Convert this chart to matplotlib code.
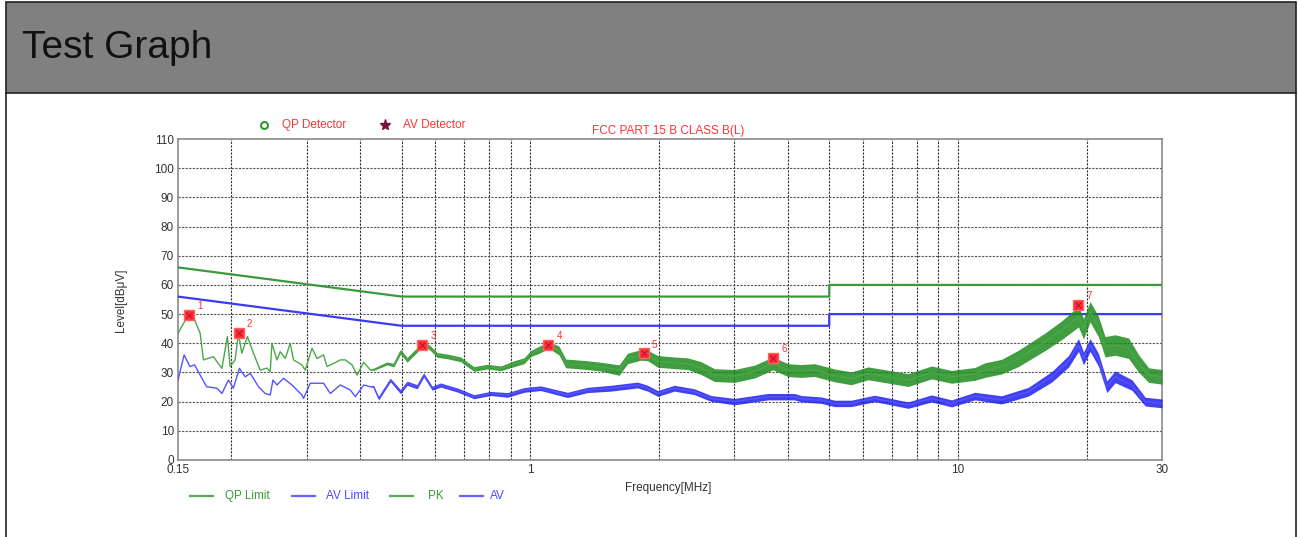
import matplotlib
matplotlib.use("Agg")
import matplotlib.pyplot as plt
from matplotlib.lines import Line2D
from matplotlib.patches import Rectangle
from matplotlib.ticker import FixedLocator, NullLocator

plt.rcParams['font.family'] = ['Liberation Sans', 'DejaVu Sans']

# limit lines (FCC Part 15 B, class B)
limit_freq = [0.15, 0.5, 5, 5, 30]
qp_limit = [66, 56, 56, 60, 60]
av_limit = [56, 46, 46, 50, 50]

# PK trace, plus half-width of the noise band
pk_freq = [0.150, 0.1585, 0.163, 0.169, 0.172, 0.1815, 0.190, 0.1957, 0.1986, 0.204,
           0.2077, 0.2115, 0.218, 0.2252, 0.2335, 0.2421, 0.2465, 0.2487, 0.2555, 0.2601,
           0.2672, 0.2745, 0.2794, 0.2923, 0.2976, 0.3086, 0.3170, 0.3285, 0.3346, 0.3467,
           0.3594, 0.3692, 0.3828, 0.3934, 0.4077, 0.4227, 0.4302, 0.4625, 0.4794, 0.4970,
           0.5152, 0.5245, 0.5586, 0.5635, 0.5841, 0.6056, 0.6393, 0.6867, 0.7379, 0.7933,
           0.8524, 0.9158, 0.9665, 1.002, 1.039, 1.106, 1.167, 1.210, 1.336, 1.462,
           1.613, 1.688, 1.814, 1.881, 1.985, 2.171, 2.333, 2.507, 2.694, 3.001,
           3.343, 3.691, 4.002, 4.299, 4.619, 5.146, 5.631, 6.163, 7.647, 8.672,
           9.658, 10.95, 11.56, 12.65, 13.84, 15.98, 17.49, 19.13, 19.66, 20.37,
           21.31, 22.08, 23.31, 25.06, 26.45, 27.92, 30.0]
pk_level = [43.4, 49.7, 49.1, 43.4, 34.3, 35.4, 31.4, 42.3, 32.0, 34.3,
            43.4, 36.6, 42.3, 36.6, 30.8, 31.5, 30.3, 40.0, 34.3, 37.1,
            34.8, 40.0, 34.3, 32.6, 30.8, 38.3, 34.8, 36.0, 32.0, 33.1,
            34.3, 34.3, 32.6, 29.1, 33.5, 30.8, 31.0, 33.1, 32.5, 37.1,
            34.3, 35.5, 39.4, 40.0, 38.3, 36.0, 35.5, 34.5, 31.2, 32.0,
            31.4, 33.0, 34.0, 36.5, 37.5, 39.4, 37.5, 33.1, 32.6, 32.0,
            30.8, 34.8, 36.0, 35.8, 33.8, 33.3, 33.0, 31.5, 29.1, 28.8,
            30.3, 33.1, 30.8, 30.5, 30.8, 29.0, 28.0, 29.7, 27.4, 30.0,
            28.5, 29.5, 30.8, 32.0, 34.8, 40.5, 44.5, 49.1, 45.0, 50.8,
            45.7, 38.8, 39.4, 38.3, 33.1, 29.1, 28.5]
pk_spread = [0, 0, 0, 0, 0, 0, 0, 0, 0, 0,
             0, 0, 0, 0, 0, 0, 0, 0, 0, 0,
             0, 0, 0, 0, 0, 0, 0, 0, 0, 0,
             0, 0, 0, 0, 0, 0, 0.3, 0.5, 0.6, 0.8,
             0.8, 0.8, 0.8, 0.8, 0.8, 0.8, 0.8, 0.8, 0.8, 0.8,
             0.8, 1.0, 1.0, 1.0, 1.2, 1.2, 1.5, 1.5, 1.5, 1.5,
             1.8, 1.8, 1.8, 1.8, 2.0, 2.0, 2.0, 2.2, 2.2, 2.2,
             2.2, 2.2, 2.2, 2.2, 2.2, 2.2, 2.2, 2.2, 2.2, 2.2,
             2.2, 2.2, 2.5, 2.5, 2.8, 3.0, 3.2, 3.5, 3.5, 3.5,
             3.5, 3.5, 3.5, 3.5, 3.0, 2.5, 2.5]

# AV trace, plus half-width of the noise band
av_freq = [0.150, 0.155, 0.160, 0.164, 0.169, 0.175, 0.185, 0.190, 0.1968, 0.2021,
           0.2088, 0.2154, 0.2213, 0.2314, 0.2399, 0.2465, 0.2501, 0.2555, 0.2647, 0.2770,
           0.2923, 0.2949, 0.3057, 0.3285, 0.3406, 0.3594, 0.3793, 0.3898, 0.4077, 0.4227,
           0.4302, 0.4420, 0.4708, 0.4970, 0.5152, 0.5437, 0.5635, 0.5895, 0.6166, 0.6747,
           0.7379, 0.8075, 0.8835, 0.9665, 1.057, 1.221, 1.360, 1.543, 1.781, 1.881,
           1.985, 2.171, 2.418, 2.646, 3.001, 3.593, 4.147, 4.299, 4.789, 5.146,
           5.631, 6.387, 7.647, 8.672, 9.658, 10.95, 12.65, 14.61, 16.57, 18.13,
           19.13, 19.66, 20.37, 21.31, 22.29, 23.31, 25.51, 27.41, 30.0]
av_level = [27.4, 36.0, 32.0, 32.6, 29.1, 25.1, 24.6, 22.8, 27.4, 24.6,
            31.4, 28.5, 29.7, 25.1, 22.8, 22.3, 27.4, 25.7, 28.0, 25.7,
            22.3, 21.1, 26.3, 26.3, 22.8, 25.7, 24.0, 21.7, 25.7, 25.1,
            25.1, 21.1, 27.4, 23.4, 26.3, 25.1, 29.1, 24.6, 25.7, 24.0,
            21.7, 22.8, 22.3, 24.0, 24.6, 22.3, 24.0, 24.6, 25.7, 24.6,
            22.8, 24.6, 23.4, 21.1, 20.0, 21.7, 21.7, 21.0, 20.5, 19.4,
            19.4, 21.1, 18.8, 21.1, 19.4, 21.9, 20.6, 23.4, 28.5, 33.8,
            39.4, 34.8, 39.4, 34.3, 25.1, 28.5, 25.7, 20.0, 19.4]
av_spread = [0, 0, 0, 0, 0, 0, 0, 0, 0, 0,
             0, 0, 0, 0, 0, 0, 0, 0, 0, 0,
             0, 0, 0, 0, 0, 0, 0, 0, 0, 0,
             0.3, 0.5, 0.6, 0.7, 0.7, 0.7, 0.7, 0.7, 0.7, 0.7,
             0.7, 0.7, 0.8, 0.8, 0.8, 0.9, 0.9, 1.0, 1.0, 1.0,
             1.0, 1.0, 1.0, 1.0, 1.1, 1.1, 1.1, 1.1, 1.1, 1.1,
             1.1, 1.1, 1.1, 1.2, 1.2, 1.3, 1.4, 1.5, 1.8, 2.0,
             2.2, 2.2, 2.2, 2.2, 2.0, 2.0, 1.8, 1.5, 1.5]

# marked peaks
mark_freq = [0.159, 0.208, 0.5586, 1.10, 1.84, 3.69, 19.13]
mark_level = [49.7, 43.6, 39.4, 39.4, 36.6, 35.1, 53.1]
mark_names = ['1', '2', '3', '4', '5', '6', '7']

x_ticks = [0.15, 1, 10, 30]
x_tick_labels = ['0.15', '1', '10', '30']
y_ticks = list(range(0, 111, 10))

GREEN = '#1e8c1e'
LGREEN = '#4aa84a'
BLUE = '#2020ee'
LBLUE = '#5555ff'

fig = plt.figure(figsize=(12.98, 5.37), dpi=100)

# header bar and frame
fig.add_artist(Rectangle((6 / 1298, 1 - 93 / 537), 1290 / 1298, 91 / 537,
                         transform=fig.transFigure, facecolor='#808080',
                         edgecolor='#222222', linewidth=1.2))
fig.add_artist(Line2D([6 / 1298, 6 / 1298], [0, 1 - 93 / 537], transform=fig.transFigure,
                      color='#222222', linewidth=1.2))
fig.add_artist(Line2D([1296 / 1298, 1296 / 1298], [0, 1 - 93 / 537], transform=fig.transFigure,
                      color='#222222', linewidth=1.2))
fig.text(22 / 1298, 1 - 48 / 537, 'Test Graph', fontsize=28, color='#111111',
         va='center', ha='left')

ax = fig.add_axes([178 / 1298, 1 - 460 / 537, 984 / 1298, 321 / 537])
ax.set_xscale('log')
ax.set_xlim(0.15, 30)
ax.set_ylim(0, 110)

# grid
ax.xaxis.set_major_locator(FixedLocator(x_ticks))
ax.xaxis.set_minor_locator(NullLocator())
ax.set_xticklabels(x_tick_labels)
ax.set_yticks(y_ticks)
grid_x = [0.2, 0.3, 0.4, 0.5, 0.6, 0.7, 0.8, 0.9, 1, 2, 3, 4, 5, 6, 7, 8, 9, 10, 20]
for gx in grid_x:
    ax.axvline(gx, color='#333333', linewidth=0.8, linestyle=(0, (2, 1.2)), zorder=1)
for gy in y_ticks[1:-1]:
    ax.axhline(gy, color='#555555', linewidth=0.8, linestyle=(0, (2, 1.2)), zorder=1)

ax.tick_params(length=0, labelsize=8.5, labelcolor='#333333', pad=3)
for s in ax.spines.values():
    s.set_color('#8a8a8a')
    s.set_linewidth(1.2)

# limits
ax.plot(limit_freq, qp_limit, color='#3a9a3a', linewidth=1.6, zorder=3)
ax.plot(limit_freq, av_limit, color='#3b3bf5', linewidth=1.6, zorder=3)

# traces
pk_lo = [l - s for l, s in zip(pk_level, pk_spread)]
pk_hi = [l + s for l, s in zip(pk_level, pk_spread)]
av_lo = [l - s for l, s in zip(av_level, av_spread)]
av_hi = [l + s for l, s in zip(av_level, av_spread)]
ax.fill_between(pk_freq, pk_lo, pk_hi, color=GREEN, alpha=0.85, linewidth=0, zorder=4)
ax.plot(pk_freq, pk_level, color=LGREEN, linewidth=1.0, zorder=4)
ax.fill_between(av_freq, av_lo, av_hi, color=BLUE, alpha=0.85, linewidth=0, zorder=4)
ax.plot(av_freq, av_level, color=LBLUE, linewidth=1.0, zorder=4)

# markers
ax.plot(mark_freq, mark_level, linestyle='none', marker='s', markersize=7,
        markerfacecolor='#ff3030', markeredgecolor='#ff6060', zorder=6)
ax.plot(mark_freq, mark_level, linestyle='none', marker='x', markersize=4,
        markeredgecolor='#c01040', markeredgewidth=0.8, zorder=7)
for f, l, n in zip(mark_freq, mark_level, mark_names):
    ax.annotate(n, (f, l), xytext=(6, 4), textcoords='offset points',
                fontsize=7, color='#ff3030', zorder=8)

# header texts
fig.text(668 / 1298, 1 - 131 / 537, 'FCC PART 15 B CLASS B(L)', color='#ff3333',
         fontsize=8.5, ha='center', va='center')
fig.add_artist(Line2D([264 / 1298], [1 - 125 / 537], transform=fig.transFigure,
                      marker='o', markersize=5, markerfacecolor='none',
                      markeredgecolor='#2e9a2e', markeredgewidth=1.5, linestyle='none'))
fig.text(282 / 1298, 1 - 125 / 537, 'QP Detector', color='#ff3333', fontsize=8.5,
         ha='left', va='center')
fig.add_artist(Line2D([385 / 1298], [1 - 125 / 537], transform=fig.transFigure,
                      marker='*', markersize=8, color='#7a1040', linestyle='none'))
fig.text(403 / 1298, 1 - 125 / 537, 'AV Detector', color='#ff3333', fontsize=8.5,
         ha='left', va='center')

# axis labels
fig.text(668 / 1298, 1 - 488 / 537, 'Frequency[MHz]', color='#333333', fontsize=8.5,
         ha='center', va='center')
fig.text(121 / 1298, 1 - 300 / 537, 'Level[dB\u03bcV]', color='#333333', fontsize=8.5,
         ha='center', va='center', rotation=90)

# bottom legend
legend_items = [('QP Limit', '#3a9a3a', 190, 225), ('AV Limit', '#4a4aff', 292, 326),
                ('PK', '#3a9a3a', 390, 428), ('AV', '#4a4aff', 460, 490)]
for name, col, x0, xt in legend_items:
    fig.add_artist(Line2D([x0 / 1298, (x0 + 23) / 1298], [1 - 496 / 537, 1 - 496 / 537],
                          transform=fig.transFigure, color=col, linewidth=1.6, alpha=0.85))
    fig.text(xt / 1298, 1 - 496 / 537, name, color=col, fontsize=8.5,
             ha='left', va='center')

fig.savefig('out.png', dpi=100)
